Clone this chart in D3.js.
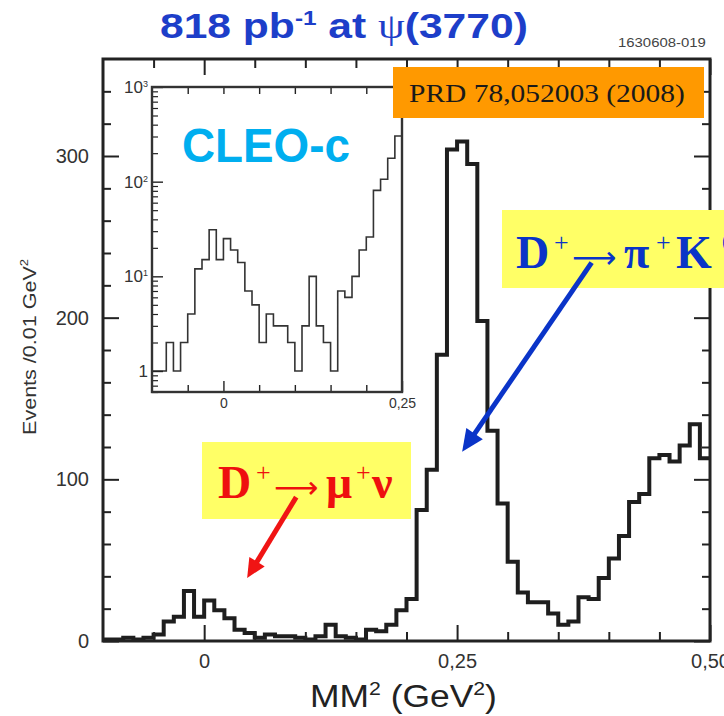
<!DOCTYPE html>
<html>
<head>
<meta charset="utf-8">
<script src="https://cdn.jsdelivr.net/npm/d3@7"></script>
<style>
  html, body { margin: 0; padding: 0; background: #fff; }
  svg { display: block; }
</style>
</head>
<body>
<svg id="chart" width="724" height="716"></svg>
<script>
// Missing-mass-squared spectrum, 0.01 GeV^2 bins (lower edges)
const binLow = [
  -0.10, -0.09, -0.08, -0.07, -0.06, -0.05, -0.04, -0.03, -0.02, -0.01,
   0.00,  0.01,  0.02,  0.03,  0.04,  0.05,  0.06,  0.07,  0.08,  0.09,
   0.10,  0.11,  0.12,  0.13,  0.14,  0.15,  0.16,  0.17,  0.18,  0.19,
   0.20,  0.21,  0.22,  0.23,  0.24,  0.25,  0.26,  0.27,  0.28,  0.29,
   0.30,  0.31,  0.32,  0.33,  0.34,  0.35,  0.36,  0.37,  0.38,  0.39,
   0.40,  0.41,  0.42,  0.43,  0.44,  0.45,  0.46,  0.47,  0.48,  0.49
];
const binUpperEdge = 0.50;
// Events per bin
const counts = [
   1,   1,   2,   1,   2,   4,  12,  15,  31,  15,
  25,  19,  14,   7,   5,   2,   4,   3,   3,   2,
   1,   3,  10,   3,   2,   1,   7,   6,  10,  19,
  26,  81, 106, 177, 304, 309, 295, 198, 130,  85,
  49,  30,  24,  24,  17,  10,  12,  27,  26,  39,
  51,  65,  86,  91, 113, 115, 111, 121, 134, 113
];
// Zoomed log-scale view covers the bins below this edge
const insetUpperEdge = 0.25;

// Tick values and labels
const mainXMajor = [0, 0.25, 0.5];
const mainXMajorLabels = ["0", "0,25", "0,50"];
const mainXMinor = [-0.05, 0.05, 0.1, 0.15, 0.2, 0.3, 0.35, 0.4, 0.45];
const mainYMajor = [0, 100, 200, 300];
const mainYMinor = [20, 40, 60, 80, 120, 140, 160, 180, 220, 240, 260, 280, 320, 340];
const insetXMajor = [0, 0.25];
const insetXMajorLabels = ["0", "0,25"];
const insetXMinor = [-0.05, 0.05, 0.1, 0.15, 0.2];
const insetYDecades = [1, 10, 100, 1000];
const insetYDecadeLabels = [["1", ""], ["10", "1"], ["10", "2"], ["10", "3"]];
const insetYMinor = [0.6, 0.7, 0.8, 0.9, 2, 3, 4, 5, 6, 7, 8, 9,
                     20, 30, 40, 50, 60, 70, 80, 90,
                     200, 300, 400, 500, 600, 700, 800, 900];

// Annotation arrows in data coordinates [MM^2, events]
const muArrow = { from: [0.091, 89], to: [0.0425, 39] };
const piArrow = { from: [0.383, 234], to: [0.255, 117] };

const svg = d3.select("#chart");
svg.append("rect").attr("width", 724).attr("height", 716).attr("fill", "#fff");

const SANS = "'Liberation Sans', Arial, Helvetica, sans-serif";
const SERIF = "'Liberation Serif', 'Times New Roman', serif";

// ---------- main frame scales ----------
const x = d3.scaleLinear().domain([-0.1, 0.5]).range([103, 710]);
const y = d3.scaleLinear().domain([0, 360]).range([641, 59]);

// text helpers: runs of text, optionally raised above the baseline
function addRuns(text, runs, fs) {
  let cur = 0;
  runs.forEach(r => {
    const t = text.append("tspan").text(r.t);
    if (r.family) t.attr("font-family", r.family);
    if (r.weight) t.attr("font-weight", r.weight);
    if (r.fs) t.attr("font-size", r.fs);
    if (r.x !== undefined) t.attr("x", r.x);
    let rise = r.rise || 0;
    if (r.sup) {
      t.attr("font-size", r.size || fs * 0.6);
      rise = r.up || fs * 0.4;
    }
    if (rise !== cur) t.attr("dy", cur - rise);
    cur = rise;
  });
}
function fitWidth(text, target) {
  const w = text.node().getBBox().width;
  const k = target / w;
  const tx = +text.attr("x"), ty = +text.attr("y");
  text.attr("transform", `translate(${tx},${ty}) scale(${k},1) translate(${-tx},${-ty})`);
  return k;
}

// ---------- main histogram ----------
svg.append("defs").append("clipPath").attr("id", "mainClip")
  .append("rect").attr("x", x(-0.1)).attr("y", y(360))
  .attr("width", x(0.5) - x(-0.1)).attr("height", y(0) - y(360));

const mainPts = binLow.map((b, i) => [b, counts[i]]);
mainPts.push([binUpperEdge, counts[counts.length - 1]]);
const stepMain = d3.line().x(d => x(d[0])).y(d => y(d[1])).curve(d3.curveStepAfter);

svg.append("path")
  .attr("clip-path", "url(#mainClip)")
  .attr("d", stepMain(mainPts))
  .attr("fill", "none")
  .attr("stroke", "#1e1e1e")
  .attr("stroke-width", 4)
  .attr("stroke-linejoin", "miter");

// ---------- main axes (inward ticks) ----------
function styleAxis(g, w) {
  g.select(".domain").remove();
  g.selectAll(".tick line").attr("stroke", "#222").attr("stroke-width", w);
  return g;
}
const tickFont = g => g.selectAll("text")
  .attr("font-family", SANS).attr("font-size", 20).attr("fill", "#333");

// left
svg.append("g").attr("transform", `translate(${x(-0.1)},0)`)
  .call(d3.axisLeft(y).tickValues(mainYMinor).tickSizeInner(-8).tickSizeOuter(0).tickFormat(""))
  .call(g => styleAxis(g, 2));
svg.append("g").attr("transform", `translate(${x(-0.1)},0)`)
  .call(d3.axisLeft(y).tickValues(mainYMajor).tickSizeInner(-16).tickSizeOuter(0).tickPadding(14).tickFormat(d3.format("d")))
  .call(g => styleAxis(g, 2)).call(tickFont);
// right
svg.append("g").attr("transform", `translate(${x(0.5)},0)`)
  .call(d3.axisRight(y).tickValues(mainYMinor).tickSizeInner(-8).tickSizeOuter(0).tickFormat(""))
  .call(g => styleAxis(g, 2));
svg.append("g").attr("transform", `translate(${x(0.5)},0)`)
  .call(d3.axisRight(y).tickValues(mainYMajor).tickSizeInner(-16).tickSizeOuter(0).tickFormat(""))
  .call(g => styleAxis(g, 2));
// bottom
svg.append("g").attr("transform", `translate(0,${y(0)})`)
  .call(d3.axisBottom(x).tickValues(mainXMinor).tickSizeInner(-9).tickSizeOuter(0).tickFormat(""))
  .call(g => styleAxis(g, 2));
svg.append("g").attr("transform", `translate(0,${y(0)})`)
  .call(d3.axisBottom(x).tickValues(mainXMajor).tickSizeInner(-16).tickSizeOuter(0).tickPadding(13)
    .tickFormat((d, i) => mainXMajorLabels[i]))
  .call(g => styleAxis(g, 2)).call(tickFont);
// top
svg.append("g").attr("transform", `translate(0,${y(360)})`)
  .call(d3.axisTop(x).tickValues(mainXMinor).tickSizeInner(-9).tickSizeOuter(0).tickFormat(""))
  .call(g => styleAxis(g, 2));
svg.append("g").attr("transform", `translate(0,${y(360)})`)
  .call(d3.axisTop(x).tickValues(mainXMajor).tickSizeInner(-16).tickSizeOuter(0).tickFormat(""))
  .call(g => styleAxis(g, 2));

// frame
svg.append("rect")
  .attr("x", x(-0.1)).attr("y", y(360))
  .attr("width", x(0.5) - x(-0.1)).attr("height", y(0) - y(360))
  .attr("fill", "none").attr("stroke", "#222").attr("stroke-width", 3);

// axis titles
const yTitle = svg.append("text")
  .attr("x", 0).attr("y", 0)
  .attr("font-family", SANS).attr("font-size", 19).attr("fill", "#333")
  .attr("text-anchor", "middle");
addRuns(yTitle, [{ t: "Events /0.01 GeV" }, { t: "2", sup: true }], 19);
{
  const w = yTitle.node().getBBox().width;
  const k = 176 / w;
  yTitle.attr("transform", `translate(36,347) rotate(-90) scale(${k},1)`);
}

const xTitle = svg.append("text")
  .attr("x", 310).attr("y", 707)
  .attr("font-family", SANS).attr("font-size", 31).attr("fill", "#222");
addRuns(xTitle, [{ t: "MM" }, { t: "2", sup: true }, { t: " (GeV" }, { t: "2", sup: true }, { t: ")" }], 31);
fitWidth(xTitle, 187);

// ---------- inset (log scale) ----------
const xi = d3.scaleLinear().domain([-0.1, 0.25]).range([152, 402]);
const yi = d3.scaleLog().domain([0.6, 1000]).range([392, 87]);

svg.append("rect")
  .attr("x", xi(-0.1)).attr("y", yi(1000))
  .attr("width", xi(0.25) - xi(-0.1)).attr("height", yi(0.6) - yi(1000))
  .attr("fill", "#fff");

const insetPts = [];
binLow.forEach((b, i) => { if (b < insetUpperEdge - 1e-9) insetPts.push([b, counts[i]]); });
insetPts.push([insetUpperEdge, insetPts[insetPts.length - 1][1]]);
const stepInset = d3.line().x(d => xi(d[0])).y(d => yi(d[1])).curve(d3.curveStepAfter);
svg.append("path")
  .attr("d", stepInset(insetPts))
  .attr("fill", "none")
  .attr("stroke", "#333")
  .attr("stroke-width", 1.6);

// inset ticks
svg.append("g").attr("transform", `translate(${xi(-0.1)},0)`)
  .call(d3.axisLeft(yi).tickValues(insetYMinor).tickSizeInner(-6).tickSizeOuter(0).tickFormat(""))
  .call(g => styleAxis(g, 1.2));
svg.append("g").attr("transform", `translate(${xi(-0.1)},0)`)
  .call(d3.axisLeft(yi).tickValues(insetYDecades).tickSizeInner(-11).tickSizeOuter(0).tickFormat(""))
  .call(g => styleAxis(g, 1.4));
svg.append("g").attr("transform", `translate(0,${yi(1000)})`)
  .call(d3.axisTop(xi).tickValues(insetXMinor.concat([0])).tickSizeInner(-7).tickSizeOuter(0).tickFormat(""))
  .call(g => styleAxis(g, 1.4));
svg.append("g").attr("transform", `translate(0,${yi(0.6)})`)
  .call(d3.axisBottom(xi).tickValues(insetXMinor).tickSizeInner(-7).tickSizeOuter(0).tickFormat(""))
  .call(g => styleAxis(g, 1.4));
svg.append("g").attr("transform", `translate(0,${yi(0.6)})`)
  .call(d3.axisBottom(xi).tickValues(insetXMajor).tickSizeInner(-11).tickSizeOuter(0).tickPadding(6)
    .tickFormat((d, i) => insetXMajorLabels[i]))
  .call(g => styleAxis(g, 1.4))
  .call(g => g.selectAll("text").attr("font-family", SANS).attr("font-size", 14).attr("fill", "#333"));

// inset decade labels with superscripts
insetYDecades.forEach((v, i) => {
  const [base, exp] = insetYDecadeLabels[i];
  const t = svg.append("text")
    .attr("x", xi(-0.1) - 4).attr("y", yi(v) + 6)
    .attr("text-anchor", "end")
    .attr("font-family", SANS).attr("font-size", 17).attr("fill", "#333");
  const runs = [{ t: base }];
  if (exp) runs.push({ t: exp, sup: true, size: 9, up: 6 });
  addRuns(t, runs, 17);
});

svg.append("rect")
  .attr("x", xi(-0.1)).attr("y", yi(1000))
  .attr("width", xi(0.25) - xi(-0.1)).attr("height", yi(0.6) - yi(1000))
  .attr("fill", "none").attr("stroke", "#333").attr("stroke-width", 2.4);

// ---------- header ----------
const title = svg.append("text")
  .attr("x", 160).attr("y", 38)
  .attr("font-family", SANS).attr("font-size", 35).attr("font-weight", "bold")
  .attr("fill", "#1d3ec9");
addRuns(title, [
  { t: "818 pb" }, { t: "-1", sup: true, size: 20, up: 13 }, { t: " at " },
  { t: "ψ", family: SERIF, weight: "normal" }, { t: "(3770)" }
], 35);
fitWidth(title, 368);

const code = svg.append("text")
  .attr("x", 618).attr("y", 47)
  .attr("font-family", SANS).attr("font-size", 12.5).attr("fill", "#444")
  .text("1630608-019");
fitWidth(code, 88);

// ---------- reference tag ----------
svg.append("rect").attr("x", 393).attr("y", 67).attr("width", 311).attr("height", 51).attr("fill", "#ff9900");
const prd = svg.append("text")
  .attr("x", 409).attr("y", 102)
  .attr("font-family", SERIF).attr("font-size", 26).attr("fill", "#1a1a1a")
  .text("PRD 78,052003 (2008)");
fitWidth(prd, 276);

// experiment name
const cleo = svg.append("text")
  .attr("x", 182).attr("y", 162)
  .attr("font-family", SANS).attr("font-size", 48).attr("font-weight", "bold")
  .attr("fill", "#00aeef")
  .text("CLEO-c");
fitWidth(cleo, 168);

// ---------- decay-mode labels ----------
// glyphs are placed at fixed offsets from the label's left edge
function decayLabel(x0, yBase, color, particles) {
  const t = svg.append("text")
    .attr("x", x0).attr("y", yBase)
    .attr("font-family", SERIF).attr("font-size", 46).attr("font-weight", "bold")
    .attr("fill", color);
  const sup = (s, dx) => ({ t: s, x: x0 + dx, sup: true, size: 26, up: 17, weight: "normal" });
  const runs = [
    { t: "D", x: x0 - 2 },
    sup("+", 36),
    { t: "⟶", x: x0 + 54, fs: 31, family: "'DejaVu Sans', sans-serif", weight: "normal", rise: 0 }
  ];
  particles.forEach(p => runs.push(p.sup ? sup(p.t, p.dx) : { t: p.t, x: x0 + p.dx }));
  addRuns(t, runs, 46);
  return t;
}

svg.append("rect").attr("x", 202).attr("y", 442).attr("width", 209).attr("height", 77).attr("fill", "#ffff66");
decayLabel(220, 498, "#ee0f0f", [
  { t: "μ", dx: 106 }, { t: "+", dx: 136, sup: true }, { t: "ν", dx: 152 }
]);

svg.append("rect").attr("x", 502).attr("y", 210).attr("width", 240).attr("height", 78).attr("fill", "#ffff66");
decayLabel(518, 268, "#0a34c8", [
  { t: "π", dx: 106 }, { t: "+", dx: 138, sup: true }, { t: "K", dx: 158 }, { t: "0", dx: 204, sup: true }
]);

// ---------- arrows ----------
function arrow(a, color, width, headLen, headHalf) {
  const x0 = x(a.from[0]), y0 = y(a.from[1]);
  const x1 = x(a.to[0]), y1 = y(a.to[1]);
  const dx = x1 - x0, dy = y1 - y0, L = Math.hypot(dx, dy);
  const ux = dx / L, uy = dy / L;
  const bx = x1 - ux * headLen, by = y1 - uy * headLen;
  svg.append("line")
    .attr("x1", x0).attr("y1", y0).attr("x2", bx + ux * 2).attr("y2", by + uy * 2)
    .attr("stroke", color).attr("stroke-width", width);
  svg.append("path")
    .attr("d", `M${x1},${y1}L${bx - uy * headHalf},${by + ux * headHalf}L${bx + uy * headHalf},${by - ux * headHalf}Z`)
    .attr("fill", color);
}
arrow(muArrow, "#f01414", 5, 19, 9);
arrow(piArrow, "#0a34c8", 5, 22, 10);
</script>
</body>
</html>
